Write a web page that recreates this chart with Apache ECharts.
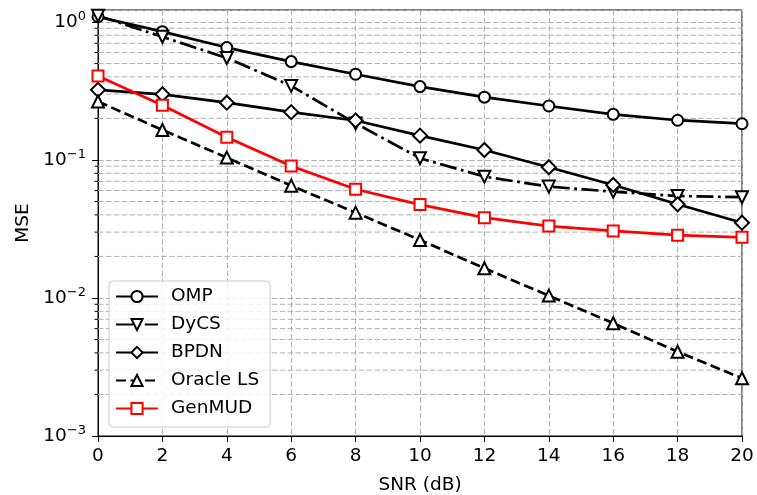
<!DOCTYPE html>
<html>
<head>
<meta charset="utf-8">
<script src="https://cdn.jsdelivr.net/npm/echarts@6/dist/echarts.min.js"></script>
<style>html,body{margin:0;padding:0;background:#fff}#c{width:757px;height:495px}</style>
</head>
<body>
<div id="c"></div>
<script>
const snr = [0, 2, 4, 6, 8, 10, 12, 14, 16, 18, 20];
const omp = [1.09, 0.85, 0.652, 0.516, 0.418, 0.340, 0.285, 0.246, 0.214, 0.194, 0.183];
const dycs = [1.11, 0.78, 0.548, 0.344, 0.184, 0.103, 0.0757, 0.0641, 0.0589, 0.0548, 0.0537];
const bpdn = [0.322, 0.299, 0.260, 0.222, 0.193, 0.150, 0.118, 0.0885, 0.0659, 0.0477, 0.0351];
const oracle = [0.265, 0.165, 0.104, 0.0651, 0.0415, 0.0263, 0.0164, 0.0104, 0.00656, 0.00408, 0.00262];
const genmud = [0.406, 0.249, 0.146, 0.0905, 0.0613, 0.0475, 0.0382, 0.0332, 0.0306, 0.0285, 0.0275];
const minorTicks = [0.002, 0.003, 0.004, 0.005, 0.006, 0.007, 0.008, 0.009,
                    0.02, 0.03, 0.04, 0.05, 0.06, 0.07, 0.08, 0.09,
                    0.2, 0.3, 0.4, 0.5, 0.6, 0.7, 0.8, 0.9];
const xMin = 0, xMax = 20, xStep = 2;
const yMin = 0.001, yMax = 1.22;

const FONT = 'DejaVu Sans';
const FS = 18.5;
const pair = arr => arr.map((v, i) => [snr[i], v]);

function mkSeries(name, data, symbol, size, dash, color, rotate) {
  return {
    name: name, type: 'line', data: pair(data),
    symbol: symbol, symbolSize: size, symbolRotate: rotate || 0,
    showAllSymbol: true,
    lineStyle: { color: color, width: 2.7, type: dash },
    itemStyle: { color: color, borderColor: color, borderWidth: 1.8 },
    emphasis: { disabled: true },
    animation: false, z: 3
  };
}

const chart = echarts.init(document.getElementById('c'), null, { renderer: 'canvas' });
chart.setOption({
  animation: false,
  textStyle: { fontFamily: FONT },
  grid: { left: 98, right: 15, top: 10, bottom: 59, containLabel: false, outerBoundsMode: 'none', show: true, borderColor: '#000', borderWidth: 1, backgroundColor: 'transparent' },
  legend: {
    data: ['OMP', 'DyCS', 'BPDN', 'Oracle LS', 'GenMUD'],
    orient: 'vertical', left: 109, top: 281,
    itemWidth: 42, itemHeight: 14, itemGap: 9,
    padding: [6, 11, 9, 6],
    borderColor: '#cccccc', borderWidth: 1, borderRadius: 4,
    backgroundColor: 'rgba(255,255,255,0.85)',
    textStyle: { fontFamily: FONT, fontSize: FS, color: '#000', padding: [0, 0, 0, 8] },
    selectedMode: false
  },
  xAxis: {
    type: 'value', min: xMin, max: xMax, interval: xStep,
    name: 'SNR (dB)', nameLocation: 'middle', nameGap: 40,
    nameTextStyle: { fontFamily: FONT, fontSize: FS, color: '#000' },
    axisLine: { show: true, onZero: false, lineStyle: { color: '#000', width: 1 } },
    axisTick: { show: true, length: 6, lineStyle: { color: '#000', width: 1 } },
    axisLabel: { fontFamily: FONT, fontSize: FS, color: '#000', margin: 11 },
    splitLine: { show: true, lineStyle: { color: '#b0b0b0', width: 1, type: [5.5, 2.4] } }
  },
  yAxis: {
    type: 'log', logBase: 10, min: yMin, max: yMax,
    name: 'MSE', nameLocation: 'middle', nameGap: 65,
    nameTextStyle: { fontFamily: FONT, fontSize: FS, color: '#000' },
    axisLine: { show: true, onZero: false, lineStyle: { color: '#000', width: 1 } },
    axisTick: { show: true, length: 6, lineStyle: { color: '#000', width: 1 } },
    axisLabel: {
      margin: 12, color: '#000', fontFamily: FONT,
      formatter: function (v) {
        const e = Math.log10(v);
        const r = Math.round(e);
        if (Math.abs(e - r) > 1e-6) return '';
        const s = r < 0 ? '\u2212' + (-r) : '' + r;
        return '{b|10}{s|' + s + '}';
      },
      rich: {
        b: { fontFamily: FONT, fontSize: FS, color: '#000' },
        s: { fontFamily: FONT, fontSize: 13, color: '#000', padding: [0, 0, 11, 0] }
      }
    },
    splitLine: { show: true, lineStyle: { color: '#b0b0b0', width: 1, type: [5.5, 2.4] } }
  },
  series: [
    {
      name: 'minorgrid', type: 'custom', silent: true, z: 1, animation: false,
      data: minorTicks.map(v => [xMin, v]),
      encode: { x: 0, y: 1 },
      renderItem: function (params, api) {
        const cs = params.coordSys;
        const y = api.coord([api.value(0), api.value(1)])[1];
        return {
          type: 'group',
          children: [
            { type: 'line', shape: { x1: cs.x - 3.5, y1: y, x2: cs.x, y2: y }, style: { stroke: '#000', lineWidth: 1 } },
            { type: 'line', shape: { x1: cs.x, y1: y, x2: cs.x + cs.width, y2: y }, style: { stroke: '#b0b0b0', lineWidth: 1, lineDash: [5.5, 2.4] } }
          ]
        };
      }
    },
    mkSeries('OMP', omp, 'emptyCircle', 11, 'solid', '#000'),
    mkSeries('DyCS', dycs, 'emptyTriangle', 12, [17, 4.5, 2.8, 4.5], '#000', 180),
    mkSeries('BPDN', bpdn, 'emptyDiamond', 14, 'solid', '#000'),
    mkSeries('Oracle LS', oracle, 'emptyTriangle', 12, [10, 4.5], '#000'),
    mkSeries('GenMUD', genmud, 'emptyRect', 11, 'solid', '#ff0000')
  ]
});
</script>
</body>
</html>
